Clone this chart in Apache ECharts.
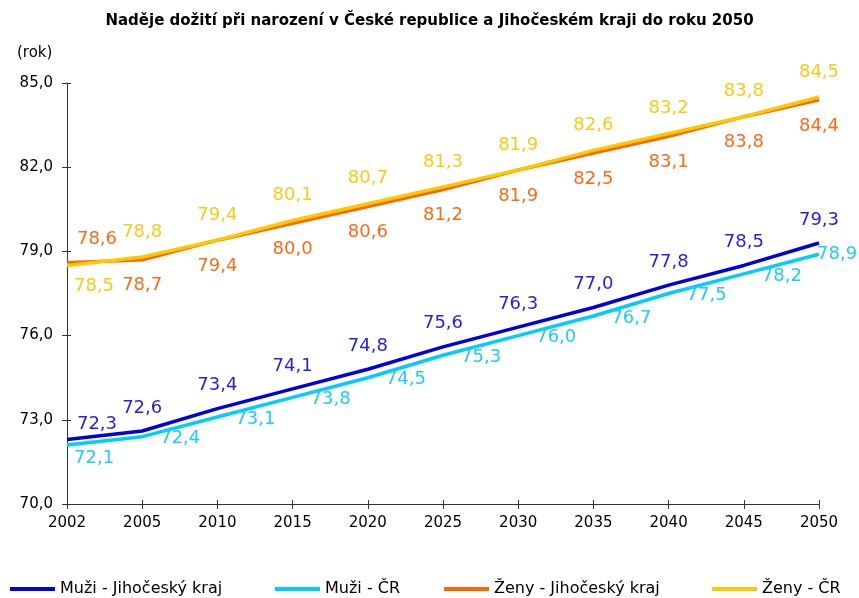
<!DOCTYPE html>
<html><head><meta charset="utf-8">
<script src="https://cdn.jsdelivr.net/npm/echarts@6/dist/echarts.min.js"></script>
<style>html,body{margin:0;padding:0;background:#fff}#c{width:859px;height:598px}</style>
</head><body><div id="c"></div>
<script>
const years = ['2002','2005','2010','2015','2020','2025','2030','2035','2040','2045','2050'];
const muziJK = [72.3,72.6,73.4,74.1,74.8,75.6,76.3,77.0,77.8,78.5,79.3];
const muziCR = [72.1,72.4,73.1,73.8,74.5,75.3,76.0,76.7,77.5,78.2,78.9];
const zenyJK = [78.6,78.7,79.4,80.0,80.6,81.2,81.9,82.5,83.1,83.8,84.4];
const zenyCR = [78.5,78.8,79.4,80.1,80.7,81.3,81.9,82.6,83.2,83.8,84.5];
const names = ['Muži - Jihočeský kraj','Muži - ČR','Ženy - Jihočeský kraj','Ženy - ČR'];
const colors = ['#0000e0','#00ccff','#ff6600','#ffc800'];
const labelColors = ['#1f1fee','#1ecbff','#ff6a16','#ffc814'];
const legendLefts = [10, 275, 444, 712];

const fmt = p => p.value.toFixed(1).replace('.', ',');
const FONT = 'DejaVu Sans';

function mk(vals, overrides) {
  return vals.map((v, i) => overrides[i] ? {value: v, label: overrides[i]} : v);
}

const chart = echarts.init(document.getElementById('c'));
const baseLabel = (i, pos, dist, extra) => Object.assign({
  show: true, position: pos, distance: dist, formatter: fmt,
  color: labelColors[i], fontFamily: FONT, fontSize: 18
}, extra || {});

const axisLine = {lineStyle: {color: '#333', width: 1}};
const lineCommon = {type: 'line', symbol: 'circle', symbolSize: 0, showSymbol: true};
chart.setOption({
  animation: false,
  title: {
    text: 'Naděje dožití při narození v České republice a Jihočeském kraji do roku 2050',
    left: 'center', top: 9,
    textStyle: {fontFamily: FONT, fontWeight: 'bold', fontSize: 15, color: '#000'}
  },
  graphic: [{type: 'text', left: 17, top: 46, style: {text: '(rok)', fontFamily: FONT, fontSize: 15, fill: '#000'}}],
  legend: names.map((n, i) => ({
    top: 581, left: legendLefts[i], itemWidth: 45, itemHeight: 4, icon: 'rect', padding: 0,
    data: [n],
    textStyle: {fontFamily: FONT, fontSize: 16, color: '#000'}
  })),
  grid: {left: 67, right: 40, top: 83, bottom: 94},
  xAxis: [{
    type: 'category', data: years, boundaryGap: false,
    axisLine: axisLine, axisTick: {show: true, length: 5, lineStyle: {color: '#333'}},
    axisLabel: {fontFamily: FONT, fontSize: 15, color: '#000', margin: 12}
  }, {
    type: 'category', data: years, boundaryGap: false, position: 'bottom',
    axisLine: {show: false}, axisTick: {show: true, inside: true, length: 4, lineStyle: {color: '#333'}},
    axisLabel: {show: false}
  }],
  yAxis: [{
    type: 'value', min: 70, max: 85, interval: 3,
    axisLine: {show: true, lineStyle: {color: '#333', width: 1}},
    axisTick: {show: true, length: 5, lineStyle: {color: '#333'}},
    splitLine: {show: false},
    axisLabel: {fontFamily: FONT, fontSize: 15, color: '#000', margin: 14,
      formatter: v => v.toFixed(1).replace('.', ',')}
  }, {
    type: 'value', min: 70, max: 85, interval: 3, position: 'left',
    axisLine: {show: false}, axisTick: {show: true, inside: true, length: 4, lineStyle: {color: '#333'}},
    axisLabel: {show: false}, splitLine: {show: false}
  }],
  series: [
    Object.assign({name: names[1], data: mk(muziCR, {0: {offset: [-11, 13]}, 10: {offset: [-20, 0]}}),
     lineStyle: {color: colors[1], width: 3.5}, itemStyle: {color: colors[1]},
     label: baseLabel(1, 'right', 18, {offset: [0, 2]}), z: 2}, lineCommon),
    Object.assign({name: names[0], data: mk(muziJK, {0: {offset: [30, 8]}}),
     lineStyle: {color: colors[0], width: 3.5}, itemStyle: {color: colors[0]},
     label: baseLabel(0, 'top', 14), z: 3}, lineCommon),
    Object.assign({name: names[2], data: mk(zenyJK, {0: {offset: [30, -49]}}),
     lineStyle: {color: colors[2], width: 3.5}, itemStyle: {color: colors[2]},
     label: baseLabel(2, 'bottom', 17), z: 2}, lineCommon),
    Object.assign({name: names[3], data: mk(zenyCR, {0: {offset: [27, 46]}}),
     lineStyle: {color: colors[3], width: 3.5}, itemStyle: {color: colors[3]},
     label: baseLabel(3, 'top', 16), z: 3}, lineCommon)
  ]
});
</script></body></html>
